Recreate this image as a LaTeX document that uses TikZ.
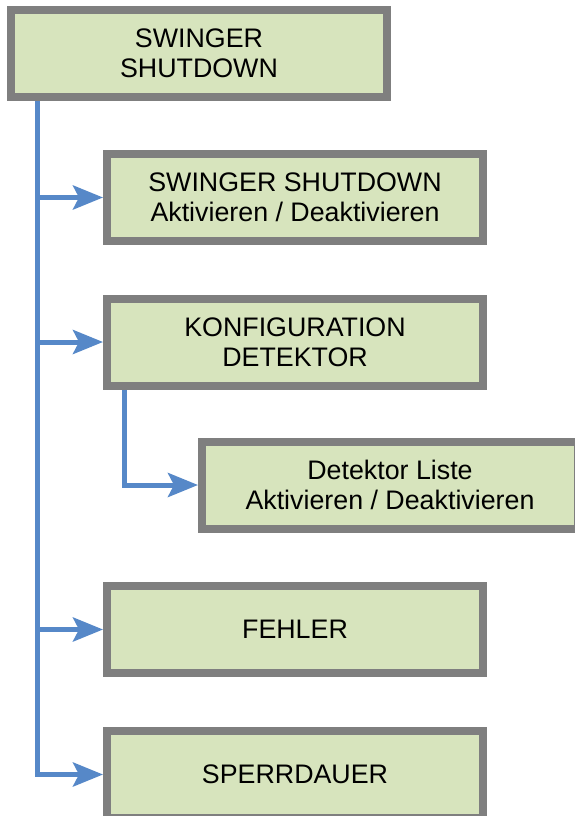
\documentclass[tikz,border=0pt]{standalone}
\usepackage{fontspec}
\setmainfont{Liberation Sans}
\usetikzlibrary{arrows.meta}
\definecolor{boxgray}{RGB}{127,127,127}
\definecolor{boxfill}{RGB}{215,228,189}
\definecolor{linkblue}{RGB}{86,136,200}
\begin{document}
\begin{tikzpicture}[x=1pt,y=-1pt,
  menubox/.style={draw=boxgray, fill=boxfill, line width=8pt,
    minimum width=376pt, minimum height=87pt, inner sep=0pt,
    align=center, font=\fontsize{26.8}{30}\selectfont},
  link/.style={draw=linkblue, line width=5pt},
  linkarrow/.style={link, -{Stealth[length=30pt,width=24pt,inset=6pt]}}]
\useasboundingbox (0,0) rectangle (575,816);
\clip (0,0) rectangle (575,816);
\node[menubox] (top) at (199,53.5) {SWINGER\\SHUTDOWN};
\node[menubox] (act) at (295,197.5) {SWINGER SHUTDOWN\\Aktivieren / Deaktivieren};
\node[menubox] (konf) at (295,342) {KONFIGURATION\\DETEKTOR};
\node[menubox] (liste) at (390,485) {Detektor Liste\\Aktivieren / Deaktivieren};
\node[menubox] (fehler) at (295,629.5) {FEHLER};
\node[menubox] (sperr) at (295,774.5) {SPERRDAUER};
\coordinate (trunk) at (37,0);
\coordinate (sub) at (124.5,0);
\draw[linkarrow] (top.south -| trunk) -- (sperr.west -| trunk) -- (sperr.west);
\draw[linkarrow] (act.west -| trunk) -- (act.west);
\draw[linkarrow] (konf.west -| trunk) -- (konf.west);
\draw[linkarrow] (fehler.west -| trunk) -- (fehler.west);
\draw[linkarrow] (konf.south -| sub) -- (liste.west -| sub) -- (liste.west);
\end{tikzpicture}
\end{document}
